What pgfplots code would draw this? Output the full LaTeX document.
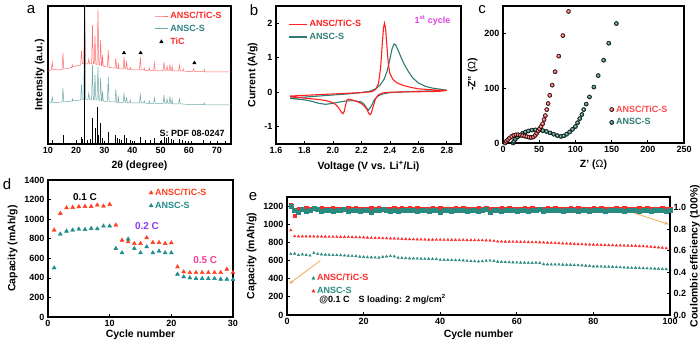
\documentclass[border=0pt]{standalone}
\usepackage{fontspec}
\setmainfont{Liberation Sans}
\usepackage{pgfplots}
\usepackage{pgfplotstable}
\pgfplotsset{compat=1.18}
\usetikzlibrary{arrows.meta}

\definecolor{redA}{HTML}{FF6A6A}
\definecolor{tealA}{HTML}{6FA8A8}
\definecolor{tred}{HTML}{FF2A2A}
\definecolor{tteal}{HTML}{2E8080}
\definecolor{cvred}{HTML}{FF2020}
\definecolor{cvteal}{HTML}{2E7D75}
\definecolor{cred}{HTML}{FF4A4A}
\definecolor{cteal}{HTML}{2E7A70}
\definecolor{dred}{HTML}{FF4020}
\definecolor{dteal}{HTML}{1E8C8C}
\definecolor{eteal}{HTML}{2A8A80}
\definecolor{cpurple}{HTML}{8A3CF0}
\definecolor{cpink}{HTML}{F0409A}
\definecolor{cmag}{HTML}{E040E0}
\definecolor{corange}{HTML}{F5A040}

\pgfplotsset{
 myaxis/.style={
  scale only axis, anchor=south west,
  axis line style={line width=1.1pt},
  every tick/.style={black, line width=0.7pt},
  major tick length=3pt,
  tick pos=left,
  tick label style={font=\fontsize{9}{10}\selectfont\bfseries},
  label style={font=\fontsize{10.5}{12}\selectfont\bfseries},
  /pgf/number format/assume math mode=true,
  /pgf/number format/1000 sep={},
  legend style={draw=none, fill=none, font=\fontsize{9}{11}\selectfont\bfseries, inner sep=0pt, outer sep=0pt},
  legend cell align=left,
  legend image code/.code={\draw[mark repeat=2,mark phase=2,##1] plot coordinates {(0cm,0cm) (0.23cm,0cm) (0.46cm,0cm)};},
 },
 lineleg/.style={legend image code/.code={\draw[##1] (0cm,0cm) -- (0.65cm,0cm);}},
 markleg/.style={legend image code/.code={\draw[##1] plot coordinates {(0.15cm,0cm)};}},
}

\pgfplotstableread{
cyc capR capT ceR ceT
1 934 673 1.030 1.010
2 868 676 0.925 0.975
3 866 660 0.986 0.962
4 866 668 0.992 0.985
5 865 662 0.995 0.972
6 866 655 0.990 0.978
7 865 684 0.993 0.998
8 864 672 0.991 0.982
9 864 668 0.994 0.970
10 863 665 0.990 0.976
11 862 663 0.993 0.980
12 862 660 0.995 0.972
13 861 660 0.991 0.978
14 860 658 0.993 0.975
15 860 655 0.990 0.982
16 859 652 0.994 0.970
17 858 650 0.992 0.976
18 857 648 0.995 0.978
19 856 642 0.991 0.972
20 855 640 0.993 0.980
21 852 637 0.990 0.975
22 850 635 0.994 0.962
23 849 633 0.992 0.978
24 848 632 0.995 0.980
25 846 640 0.991 0.988
26 845 645 0.993 0.975
27 843 650 0.990 0.972
28 842 646 0.994 0.978
29 840 630 0.992 0.965
30 838 628 0.995 0.975
31 836 626 0.991 0.980
32 835 624 0.996 0.974
33 834 623 0.992 0.978
34 833 622 0.994 0.972
35 832 620 0.990 0.980
36 831 619 0.993 0.976
37 830 618 0.991 0.970
38 830 617 0.995 0.978
39 829 616 0.992 0.975
40 829 608 0.994 0.962
41 828 607 0.990 0.976
42 828 606 0.993 0.980
43 827 605 0.991 0.972
44 827 604 0.995 0.978
45 826 603 0.992 0.974
46 826 602 0.994 0.980
47 825 598 0.990 0.968
48 825 594 0.993 0.976
49 824 592 0.991 0.978
50 824 590 0.995 0.972
51 823 592 0.992 0.980
52 822 598 0.996 0.990
53 820 600 0.991 0.962
54 815 596 0.993 0.976
55 810 588 0.990 0.980
56 809 585 0.994 0.972
57 808 583 0.992 0.978
58 808 582 0.995 0.975
59 807 580 0.991 0.980
60 806 578 0.993 0.970
61 805 577 0.990 0.976
62 804 576 0.994 0.978
63 803 575 0.992 0.972
64 802 574 0.995 0.980
65 801 576 0.991 0.975
66 800 573 0.993 0.984
67 799 560 0.990 0.972
68 797 558 0.994 0.978
69 795 557 0.992 0.974
70 793 557 0.995 0.980
71 791 556 0.991 0.976
72 789 555 0.993 0.972
73 787 553 0.990 0.978
74 785 552 0.994 0.975
75 783 550 0.992 0.980
76 781 548 0.995 0.972
77 779 546 0.991 0.976
78 777 544 0.993 0.978
79 776 540 0.990 0.972
80 775 536 0.994 0.980
81 774 535 0.992 0.975
82 772 534 0.995 0.976
83 770 533 0.991 0.972
84 769 532 0.993 0.978
85 768 530 0.990 0.974
86 767 528 0.994 0.980
87 766 526 0.992 0.976
88 765 524 0.995 0.972
89 764 522 0.991 0.978
90 763 520 0.993 0.975
91 761 519 0.990 0.980
92 759 518 0.994 0.972
93 757 516 0.992 0.976
94 755 514 0.995 0.978
95 752 512 0.991 0.972
96 748 511 0.993 0.980
97 744 509 0.990 0.975
98 740 507 0.994 0.976
99 735 505 0.992 0.972
100 728 502 0.993 0.978
}\ecycle

\begin{document}
\begin{tikzpicture}[x=1pt,y=1pt]
\useasboundingbox (0,0) rectangle (700,340);

% ---------------- panel a
\begin{axis}[myaxis, at={(48pt,196pt)}, width=183pt, height=138pt,
  xmin=10, xmax=75, ymin=-1, ymax=137,
  xtick={10,20,...,70}, ytick=\empty,
  xlabel={2θ (degree)}, ylabel={Intensity (a.u.)},
  legend style={at={(axis cs:47.8,133)}, anchor=north west, row sep=1pt}]
\addplot[redA, line width=0.5pt, forget plot] coordinates {
(10,72) (11.2,73) (11.5,81) (11.8,73) (12.5,73.5) (14,73) (15.0,73.5) (15.3,90) (15.6,74) (17,74.5) (18.4,75.5) (18.6,78) (18.8,76) (20,77) (21.6,78) (21.9,92) (22.2,79) (22.7,79) (23.05,140) (23.35,79) (24.2,79) (24.5,84) (24.8,79) (25.5,79) (25.8,118) (26.1,79) (26.4,79) (26.7,107) (27.0,78.5) (27.4,78.5) (27.75,133) (28.05,78) (28.4,78) (28.7,103) (29.0,77.5) (29.2,78) (29.4,88) (29.6,77) (30.5,76) (31.1,76) (31.4,93) (31.7,75.5) (33,75) (33.8,75) (34.1,85) (34.4,74.5) (34.8,74.5) (35.0,79) (35.2,74) (36,74) (36.7,74) (37.0,86) (37.3,74) (37.6,74) (37.9,81) (38.2,73.5) (39,73.5) (39.2,76) (39.4,73.5) (40.5,73) (42,73) (42.5,73) (42.8,86) (43.1,73) (44,73) (44.2,75) (44.4,72.5) (45.8,72.5) (46,75) (46.2,72.5) (47.5,72.5) (47.8,80) (48.1,72.5) (49.5,72) (50.9,72.5) (51.2,81) (51.5,72.5) (52,72.5) (52.3,77) (52.6,72.5) (53.0,72.5) (53.3,78) (53.6,72.5) (53.9,72.5) (54.1,77) (54.3,72) (55,72) (56.4,72) (56.7,78) (57.0,72) (57.8,72) (58,74) (58.2,72) (60,71.5) (61.4,71.5) (61.7,74) (62,71.5) (63,71.5) (65.3,71.5) (65.5,73.5) (65.7,71) (68,71) (70,71) (72,71) (75,71)};
\addplot[tealA, line width=0.5pt, forget plot] coordinates {
(10,40) (11.2,40.5) (11.5,46) (11.8,40.5) (13,40.5) (15.0,41) (15.3,55) (15.6,41) (17,41.5) (18.5,42) (18.7,44) (18.9,42) (20,42.5) (21.6,43) (21.9,58) (22.2,43.5) (22.7,43.5) (23.05,140) (23.35,43.5) (24.2,43.5) (24.5,50) (24.8,43.5) (25.5,43.5) (25.8,78) (26.1,43.5) (26.4,43) (26.7,68) (27.0,43) (27.4,43) (27.75,76) (28.05,42.5) (28.4,42.5) (28.7,65) (29.0,42) (29.2,42) (29.4,52) (29.6,42) (30.5,41.5) (31.1,41.5) (31.4,66) (31.7,41) (33,41) (33.8,41) (34.1,54) (34.4,40.5) (34.8,40.5) (35.0,46) (35.2,40.5) (36,40.5) (36.7,40.5) (37.0,50) (37.3,40.5) (37.6,40.5) (37.9,45) (38.2,40) (39,40) (39.2,43) (39.4,40) (42.5,40) (42.8,48) (43.1,40) (44,40) (44.2,42) (44.4,40) (45.8,39.5) (46,42) (46.2,39.5) (47.5,39.5) (47.8,45) (48.1,39.5) (50.9,39.5) (51.2,48) (51.5,39.5) (52,39.5) (52.3,44) (52.6,39.5) (53.0,39.5) (53.3,46) (53.6,39.5) (53.9,39.5) (54.1,44) (54.3,39) (56.4,39) (56.7,44) (57.0,39) (58,39) (60,38.5) (65.3,38.5) (65.5,40) (65.7,38) (75,38)};
\addplot[black, ycomb, line width=0.8pt, forget plot] coordinates {
(11.5,3) (15.3,8) (20.0,3) (21.9,6) (22.3,4) (23.1,150) (24.0,3) (25.0,4) (25.8,25) (26.7,15) (27.7,36) (28.0,8) (28.7,20) (29.5,5) (31.4,11) (34.1,8) (34.6,5) (35.5,4) (36.2,3) (37.0,8) (37.9,5) (39.4,3) (40.6,2) (42.7,6) (44.6,3) (46.2,3) (47.8,5) (50.2,3) (51.3,6) (52.0,5) (52.8,6) (53.7,4) (54.7,3) (56.5,4) (57.6,3) (58.9,2) (61.1,2) (65.3,3) (67.8,2) (70.1,2) (73,2)};
\addplot[only marks, mark=triangle*, black, mark size=2pt, forget plot] coordinates {(37,90) (42.9,90) (62,80)};
\addlegendimage{redA, line width=0.9pt}
\addlegendentry{\textcolor{tred}{ANSC/TiC-S}}
\addlegendimage{tealA, line width=0.9pt}
\addlegendentry{\textcolor{tteal}{ANSC-S}}
\addlegendimage{only marks, mark=triangle*, black, mark size=2pt}
\addlegendentry{\textcolor{tred}{TiC}}
\node[anchor=south east, font=\fontsize{9}{10}\selectfont\bfseries] at (axis cs:74,3) {S: PDF 08-0247};
\end{axis}

% ---------------- panel b
\begin{axis}[myaxis, lineleg, at={(276pt,196pt)}, width=185pt, height=138pt,
  xmin=1.6, xmax=2.9, ymin=-1.5, ymax=2.5,
  xtick={1.6,1.8,2.0,2.2,2.4,2.6,2.8}, ytick={-1,0,1,2},
  xticklabel style={/pgf/number format/.cd, fixed, fixed zerofill, precision=1},
  xlabel={Voltage (V vs. Li\textsuperscript{+}/Li)}, ylabel={Current (A/g)},
  legend style={at={(axis cs:1.685,2.15)}, anchor=north west, row sep=1pt}]
\addplot[cvteal, line width=1.1pt, forget plot] coordinates {
(1.70,-0.17) (1.80,-0.14) (1.90,-0.11) (2.00,-0.08) (2.10,-0.05) (2.20,-0.01) (2.26,0.03) (2.30,0.1) (2.33,0.2) (2.36,0.38) (2.38,0.6) (2.40,0.95) (2.415,1.25) (2.43,1.4) (2.44,1.38) (2.46,1.2) (2.48,1.0) (2.50,0.82) (2.53,0.6) (2.56,0.42) (2.60,0.27) (2.65,0.17) (2.70,0.12) (2.80,0.06)
(2.70,0.04) (2.60,0.03) (2.50,0.01) (2.40,-0.01) (2.35,-0.05) (2.32,-0.1) (2.29,-0.22) (2.27,-0.4) (2.25,-0.52) (2.24,-0.48) (2.22,-0.35) (2.20,-0.28) (2.15,-0.25) (2.10,-0.25) (2.05,-0.28) (2.00,-0.32) (1.95,-0.35) (1.90,-0.32) (1.85,-0.26) (1.80,-0.22) (1.70,-0.18)};
\addplot[cvred, line width=1.1pt, forget plot] coordinates {
(1.70,-0.11) (1.80,-0.09) (1.90,-0.07) (2.00,-0.05) (2.10,-0.03) (2.20,-0.01) (2.26,0.01) (2.28,0.03) (2.30,0.08) (2.32,0.25) (2.335,0.7) (2.345,1.3) (2.355,1.85) (2.362,2.0) (2.37,1.85) (2.38,1.3) (2.39,0.8) (2.40,0.55) (2.42,0.38) (2.45,0.27) (2.50,0.19) (2.55,0.14) (2.60,0.1) (2.70,0.07) (2.80,0.05)
(2.75,0.03) (2.70,0.02) (2.60,0.015) (2.50,0.01) (2.40,0.0) (2.35,-0.02) (2.32,-0.07) (2.30,-0.18) (2.28,-0.45) (2.27,-0.6) (2.26,-0.65) (2.25,-0.6) (2.24,-0.5) (2.22,-0.4) (2.20,-0.33) (2.17,-0.27) (2.14,-0.23) (2.11,-0.2) (2.10,-0.22) (2.09,-0.35) (2.08,-0.55) (2.07,-0.62) (2.06,-0.58) (2.04,-0.45) (2.02,-0.36) (2.00,-0.3) (1.95,-0.24) (1.90,-0.21) (1.80,-0.17) (1.70,-0.13)};
\addlegendimage{cvred, line width=1.1pt}
\addlegendentry{\textcolor{cvred}{ANSC/TiC-S}}
\addlegendimage{cvteal, line width=1.1pt}
\addlegendentry{\textcolor{cvteal}{ANSC-S}}
\node[font=\fontsize{9}{10}\selectfont\bfseries, text=cmag] at (axis cs:2.70,2.07) {1\textsuperscript{st} cycle};
\end{axis}

% ---------------- panel c
\begin{axis}[myaxis, markleg, at={(503pt,197pt)}, width=181pt, height=137pt,
  xmin=0, xmax=250, ymin=0, ymax=250,
  xtick={0,50,...,250}, ytick={0,100,200},
  xlabel={Z' ({\mdseries Ω})}, ylabel={-Z'' ({\mdseries Ω})},
  legend style={at={(axis cs:147,72)}, anchor=north west, row sep=1pt}]
\addplot[only marks, mark=ball, ball color=cteal, mark size=2.1pt, forget plot] coordinates {
(14,0) (15,3) (17,7) (20,11) (23,14) (27,17.5) (31,20) (35,22) (40,23.5) (45,24) (50,23.5) (55,22.5) (60,21) (65,18.5) (70,16) (75,13.5) (80,12) (84,13) (88,16) (92,20) (96,25) (100,30) (103,37) (106,44.5) (109,52) (111.5,61) (115,71) (119.4,84) (125.5,102) (131.5,123) (139,151) (146,182) (156.6,218)};
\addplot[only marks, mark=ball, ball color=cred, mark size=2.1pt, forget plot] coordinates {
(3,0) (4.5,3) (6.5,6) (9,9) (12,12) (15,14) (18,15) (21,15) (24,14.5) (27,13.5) (30,12.5) (33,11.5) (36,10.5) (39,10) (42,11) (44.5,14) (46.5,18) (48.5,22) (50.5,26) (52.5,30) (54.8,35) (56.7,42.7) (58.5,50) (60.4,61) (62.3,72) (64.6,87) (68,105.5) (72,130) (77,158.5) (82.7,196) (90.6,240)};
\addlegendimage{only marks, mark=ball, ball color=cred, mark size=2.1pt}
\addlegendentry{\textcolor{cred}{ANSC/TiC-S}}
\addlegendimage{only marks, mark=ball, ball color=cteal, mark size=2.1pt}
\addlegendentry{\textcolor{cteal}{ANSC-S}}
\end{axis}

% ---------------- panel d
\begin{axis}[myaxis, markleg, at={(48pt,23pt)}, width=185pt, height=137pt,
  xmin=0, xmax=30, ymin=0, ymax=1400,
  xtick={0,10,20,30}, ytick={0,200,...,1400},
  xlabel={Cycle number}, ylabel={Capacity (mAh/g)},
  xlabel style={yshift=3.5pt},
  legend style={at={(axis cs:16.4,1330)}, anchor=north west, row sep=1pt}]
\addplot[only marks, mark=triangle*, dred, mark size=2.3pt, forget plot] coordinates {
(1,888) (2,1058) (3,1116) (4,1120) (5,1127) (6,1130) (7,1130) (8,1144) (9,1133) (10,1150) (11,939) (12,785) (13,768) (14,751) (15,751) (16,809) (17,761) (18,761) (19,751) (20,758) (21,512) (22,461) (23,454) (24,454) (25,454) (26,454) (27,454) (28,454) (29,488) (30,454)};
\addplot[only marks, mark=triangle*, dteal, mark size=2.3pt, forget plot] coordinates {
(1,502) (2,847) (3,877) (4,888) (5,898) (6,894) (7,905) (8,901) (9,929) (10,929) (11,700) (12,656) (13,796) (14,700) (15,656) (16,717) (17,656) (18,673) (19,656) (20,656) (21,437) (22,410) (23,400) (24,393) (25,393) (26,393) (27,393) (28,386) (29,386) (30,382)};
\addlegendimage{only marks, mark=triangle*, dred, mark size=2.3pt}
\addlegendentry{\textcolor{dred}{ANSC/TiC-S}}
\addlegendimage{only marks, mark=triangle*, dteal, mark size=2.3pt}
\addlegendentry{\textcolor{dteal}{ANSC-S}}
\node[font=\fontsize{10}{11}\selectfont\bfseries] at (axis cs:6.0,1226) {0.1 C};
\node[font=\fontsize{10}{11}\selectfont\bfseries, text=cpurple] at (axis cs:16.05,930) {0.2 C};
\node[font=\fontsize{10}{11}\selectfont\bfseries, text=cpink] at (axis cs:25.5,582) {0.5 C};
\end{axis}

% ---------------- panel e (left)
\begin{axis}[myaxis, markleg, at={(287pt,25pt)}, width=383pt, height=118pt,
  xmin=0, xmax=100, ymin=0, ymax=1300,
  xtick={0,20,...,100}, ytick={0,200,...,1200},
  xlabel={Cycle number}, ylabel={Capacity (mAh/g)},
  xlabel style={yshift=2pt},
  legend style={at={(axis cs:6.5,470)}, anchor=north west, row sep=1pt}]
\addplot[only marks, mark=triangle*, tred, mark size=1.4pt, forget plot] table[x=cyc, y=capR] {\ecycle};
\addplot[only marks, mark=triangle*, eteal, mark size=1.4pt, forget plot] table[x=cyc, y=capT] {\ecycle};
\draw[corange, line width=0.7pt, -{Stealth[length=4pt]}] (axis cs:8.7,600) -- (axis cs:0.6,345);
\draw[corange, line width=0.7pt, -{Stealth[length=4pt]}] (axis cs:90.4,1127) -- (axis cs:99.6,1000);
\addlegendimage{only marks, mark=triangle*, eteal, mark size=1.8pt}
\addlegendentry{\textcolor{tred}{ANSC/TiC-S}}
\addlegendimage{only marks, mark=triangle*, tred, mark size=1.8pt}
\addlegendentry{\textcolor{eteal}{ANSC-S}}
\node[anchor=west, font=\fontsize{9}{10}\selectfont\bfseries] at (axis cs:7.5,176) {@0.1 C\quad S loading: 2 mg/cm\textsuperscript{2}};
\end{axis}

% ---------------- panel e (right)
\begin{axis}[myaxis, at={(287pt,25pt)}, width=383pt, height=118pt,
  xmin=0, xmax=100, ymin=0, ymax=1.1,
  axis x line=none, axis y line*=right, tick pos=right,
  ytick={0,0.2,0.4,0.6,0.8,1.0},
  yticklabel style={/pgf/number format/.cd, fixed, fixed zerofill, precision=1},
  ylabel={Coulombic efficiency (100\%)}, ylabel style={yshift=3pt}]
\addplot[only marks, mark=square*, tred, mark size=1.7pt] table[x=cyc, y=ceR] {\ecycle};
\addplot[only marks, mark=square*, eteal, mark size=2.0pt] table[x=cyc, y=ceT] {\ecycle};
\end{axis}

% panel letters
\node[font=\fontsize{15}{15}\selectfont] at (31,330) {a};
\node[font=\fontsize{15}{15}\selectfont] at (254,330) {b};
\node[font=\fontsize{15}{15}\selectfont] at (482,330) {c};
\node[font=\fontsize{15}{15}\selectfont] at (7,156) {d};
\node[font=\fontsize{15}{15}\selectfont] at (253,143) {e};
\end{tikzpicture}
\end{document}
